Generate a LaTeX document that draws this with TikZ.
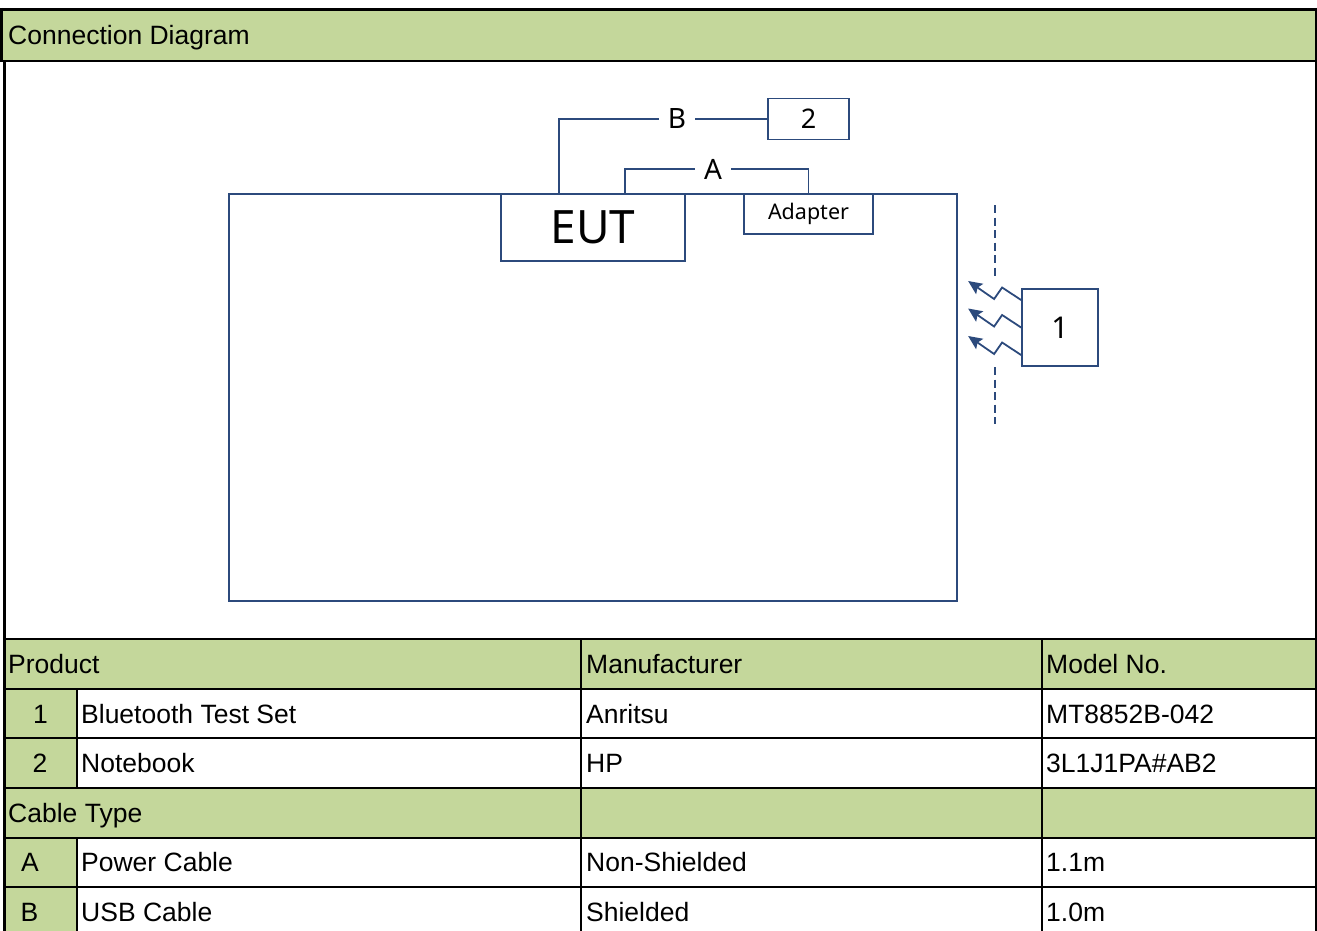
\documentclass[tikz,border=0pt]{standalone}
\usepackage{fontspec}
\setmainfont{Liberation Sans}
\newfontfamily\dfont{Noto Sans}
\usetikzlibrary{arrows.meta,calc}
\definecolor{hdr}{HTML}{C4D79B}
\definecolor{wire}{HTML}{2C4A7C}

\begin{document}
\begin{tikzpicture}[x=1pt,y=-1pt,
  unit/.style={draw=wire,line width=1.8pt,inner sep=0pt,text=black,font=\dfont},
  cable/.style={draw=wire,line width=1.8pt},
  tag/.style={inner xsep=9pt,inner ysep=0pt,font=\dfont\fontsize{28}{30}\selectfont},
  cell/.style={inner sep=0pt,anchor=base west,font=\fontsize{26.5}{30}\selectfont},
  num/.style={inner sep=0pt,anchor=base,font=\fontsize{26.5}{30}\selectfont},
  rule/.style={draw=black,line width=2pt},
  thin/.style={draw=black,line width=1.6pt},
  wave/.style={cable,line join=miter,
    -{Stealth[length=14pt,width=12.5pt,inset=2.5pt]}}]
\useasboundingbox (0,0) rectangle (1317,931);

% ---------- green bands ----------
\fill[hdr] (3,11) rectangle (1315,60);
\fill[hdr] (6,640) rectangle (1315,688);
\fill[hdr] (6,689) rectangle (77,788);
\fill[hdr] (6,788) rectangle (1315,837);
\fill[hdr] (6,837) rectangle (77,931);

% ---------- frame and grid ----------
\draw[black,line width=3pt] (0,9.5) -- (1317,9.5);
\draw[rule] (0,61) -- (1317,61);
\draw[black,line width=2.8pt] (1.4,8) -- (1.4,62);
\draw[black,line width=3pt] (4.3,62) -- (4.3,931);
\draw[rule] (1316,8) -- (1316,931);
\foreach \yy in {639,688.7,738,788,837.5,887}
  \draw[rule] (4,\yy) -- (1316,\yy);
\draw[thin] (77,689) -- (77,788);
\draw[thin] (77,837) -- (77,931);
\draw[thin] (581,639) -- (581,931);
\draw[thin] (1042,639) -- (1042,931);

% ---------- table text ----------
\node[cell] (title) at (8,45) {Connection Diagram};
\node[cell] (hprod) at (8,673) {Product};
\node[cell] (hman)  at (586,673) {Manufacturer};
\node[cell] (hmod)  at (1046,673) {Model No.};

\node[num]  (n1i) at (40.5,723) {1};
\node[cell] (p1)  at (81,723) {Bluetooth Test Set};
\node[cell] (m1)  at (586,723) {Anritsu};
\node[cell] (d1)  at (1046,723) {MT8852B-042};

\node[num]  (n2i) at (40,772.5) {2};
\node[cell] (p2)  at (81,772.5) {Notebook};
\node[cell] (m2)  at (586,772.5) {HP};
\node[cell] (d2)  at (1046,772.5) {3L1J1PA\#AB2};

\node[cell] (hcab) at (8,822) {Cable Type};

\node[num]  (cA) at (30,871.5) {A};
\node[cell] (tA) at (81,871.5) {Power Cable};
\node[cell] (sA) at (586,871.5) {Non-Shielded};
\node[cell] (lA) at (1046,871.5) {1.1m};

\node[num]  (cB) at (29.5,921) {B};
\node[cell] (tB) at (81,921) {USB Cable};
\node[cell] (sB) at (586,921) {Shielded};
\node[cell] (lB) at (1046,921) {1.0m};

% ---------- test setup ----------
\node[unit,minimum width=728pt,minimum height=407pt] (room) at (593,397.5) {};
\node[unit,minimum width=184pt,minimum height=67pt,
      font=\dfont\fontsize{46}{50}\selectfont] (eut) at (593,227.5) {EUT};
\node[unit,minimum width=129pt,minimum height=40pt,
      font=\dfont\fontsize{21.5}{24}\selectfont] (adapter) at (808.5,214) {Adapter};
\node[unit,minimum width=81pt,minimum height=41pt,
      font=\dfont\fontsize{27}{28}\selectfont] (n2) at (808.5,119) {2};
\node[unit,minimum width=76pt,minimum height=77pt,
      font=\dfont\fontsize{30}{32}\selectfont] (n1) at (1060,327.5) {1};

% cables
\node[tag] (lb) at (677,119) {B};
\node[tag] (la) at (713,169) {A};
\coordinate (bfoot) at (559,194);
\coordinate (afoot) at (625,194);
\draw[cable] (bfoot) |- (lb);
\draw[cable] (lb) -- (n2);
\draw[cable] (afoot) |- (la);
\draw[cable] (la) -| (adapter.north);

% radiated link
\draw[cable,dash pattern=on 8pt off 4.5pt] (995,205) -- (995,278);
\draw[cable,dash pattern=on 8pt off 4.5pt] (995,367) -- (995,424);
\foreach \d in {-27.5,0,27.5}
  \draw[wave] ($(n1.west)+(0,\d)$) -- ++(-19,-12.5) -- ++(-8,11.5) -- ++(-26,-18);
\end{tikzpicture}
\end{document}
